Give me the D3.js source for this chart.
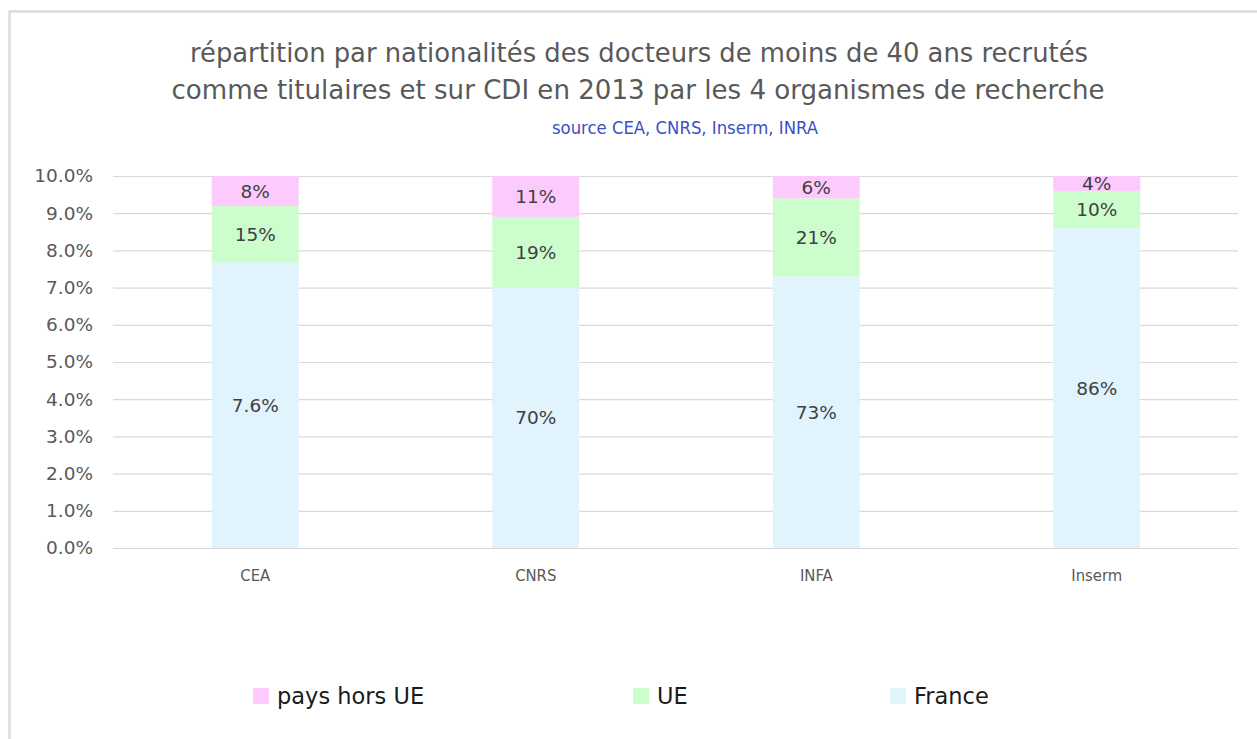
<!DOCTYPE html>
<html>
<head>
<meta charset="utf-8">
<script src="https://cdn.jsdelivr.net/npm/d3@7"></script>
<style>
  html, body { margin: 0; padding: 0; background: #fff; }
  svg { display: block; }
</style>
</head>
<body>
<script>
const width = 1257;
const height = 739;

const categories = ["CEA", "CNRS", "INRA", "Inserm"];
const categoryLabels = ["CEA", "CNRS", "INFA", "Inserm"];
const seriesNames = ["France", "UE", "pays hors UE"];
const france = [76, 70, 73, 86];
const ue = [15, 19, 21, 10];
const horsUE = [8, 11, 6, 4];
const franceLabels = ["7.6%", "70%", "73%", "86%"];
const ueLabels = ["15%", "19%", "21%", "10%"];
const horsUELabels = ["8%", "11%", "6%", "4%"];
const yTickLabels = ["0.0%", "1.0%", "2.0%", "3.0%", "4.0%", "5.0%", "6.0%", "7.0%", "8.0%", "9.0%", "10.0%"];

const colors = { "France": "#e1f3fd", "UE": "#ccfdcc", "pays hors UE": "#fccafc" };
const labels = { "France": franceLabels, "UE": ueLabels, "pays hors UE": horsUELabels };

const rows = categories.map((c, i) => ({
  cat: c, "France": france[i], "UE": ue[i], "pays hors UE": horsUE[i]
}));

const stack = d3.stack().keys(seriesNames).offset(d3.stackOffsetExpand);
const series = stack(rows);

const x = d3.scaleBand().domain(categories).range([115, 1237])
  .paddingInner(0.69).paddingOuter(0.345);
const y = d3.scaleLinear().domain([0, 1]).range([548, 176]);

const svg = d3.select("body").append("svg")
  .attr("width", width).attr("height", height);

// chart frame
svg.append("path")
  .attr("d", `M9.5,${height} V11.5 H${width}`)
  .attr("fill", "none").attr("stroke", "#dcdcdc").attr("stroke-width", 2.5);

// title
const titleFont = "'Liberation Sans Narrow', 'DejaVu Sans Condensed', 'Roboto Condensed', 'Open Sans', sans-serif";
const title = svg.append("g").attr("fill", "#595959").attr("font-family", titleFont)
  .attr("text-anchor", "middle").attr("font-size", 27);
title.append("text").attr("x", 639).attr("y", 62)
  .attr("textLength", 898).attr("lengthAdjust", "spacingAndGlyphs")
  .text("répartition par nationalités des docteurs de moins de 40 ans recrutés");
title.append("text").attr("x", 638).attr("y", 99)
  .attr("textLength", 933).attr("lengthAdjust", "spacingAndGlyphs")
  .text("comme titulaires et sur CDI  en 2013 par les 4  organismes de recherche");
svg.append("text").attr("x", 685).attr("y", 134)
  .attr("text-anchor", "middle").attr("font-family", titleFont)
  .attr("font-size", 17).attr("fill", "#3b4fc4")
  .attr("textLength", 266).attr("lengthAdjust", "spacingAndGlyphs")
  .text("source CEA, CNRS, Inserm, INRA");

// gridlines + y axis
const yAxis = d3.axisLeft(y)
  .tickValues(yTickLabels.map((d, i) => i / (yTickLabels.length - 1)))
  .tickFormat((d, i) => yTickLabels[i])
  .tickSize(-(1238 - 113)).tickPadding(20);

svg.append("g")
  .attr("transform", "translate(113,0)")
  .call(yAxis)
  .call(g => g.select(".domain").remove())
  .call(g => g.selectAll(".tick line").attr("stroke", "#d9d9d9").attr("stroke-width", 1.2))
  .call(g => g.selectAll(".tick text")
    .attr("fill", "#595959").attr("font-size", 18.5)
    .attr("font-family", "'DejaVu Sans', sans-serif"));

// bars
const layer = svg.append("g").selectAll("g")
  .data(series)
  .join("g")
  .attr("fill", d => colors[d.key]);

layer.selectAll("rect")
  .data(d => d)
  .join("rect")
  .attr("x", d => x(d.data.cat))
  .attr("y", d => y(d[1]))
  .attr("width", x.bandwidth())
  .attr("height", d => y(d[0]) - y(d[1]));

// data labels
svg.append("g")
  .attr("font-family", "'DejaVu Sans', sans-serif")
  .attr("font-size", 18.5).attr("fill", "#404040").attr("text-anchor", "middle")
  .selectAll("g")
  .data(series)
  .join("g")
  .selectAll("text")
  .data(s => s.map((d, i) => ({ d, label: labels[s.key][i] })))
  .join("text")
  .attr("x", p => x(p.d.data.cat) + x.bandwidth() / 2)
  .attr("y", p => (y(p.d[0]) + y(p.d[1])) / 2)
  .attr("dy", "0.36em")
  .text(p => p.label);

// x axis labels
const xAxis = d3.axisBottom(x).tickSize(0).tickPadding(21)
  .tickFormat((d, i) => categoryLabels[i]);
svg.append("g")
  .attr("transform", "translate(0,548)")
  .call(xAxis)
  .call(g => g.select(".domain").remove())
  .call(g => g.selectAll(".tick text")
    .attr("fill", "#595959").attr("font-size", 16.5)
    .attr("font-family", titleFont));

// legend
const legendItems = [
  { key: "pays hors UE", x: 253 },
  { key: "UE", x: 633 },
  { key: "France", x: 890 }
];
const legend = svg.append("g").selectAll("g")
  .data(legendItems)
  .join("g")
  .attr("transform", d => `translate(${d.x},688)`);
legend.append("rect")
  .attr("width", 16).attr("height", 16)
  .attr("fill", d => colors[d.key]);
legend.append("text")
  .attr("x", 24).attr("y", 16)
  .attr("font-family", "'DejaVu Sans', sans-serif")
  .attr("font-size", 22.5).attr("fill", "#1a1a1a")
  .text(d => d.key);
</script>
</body>
</html>
